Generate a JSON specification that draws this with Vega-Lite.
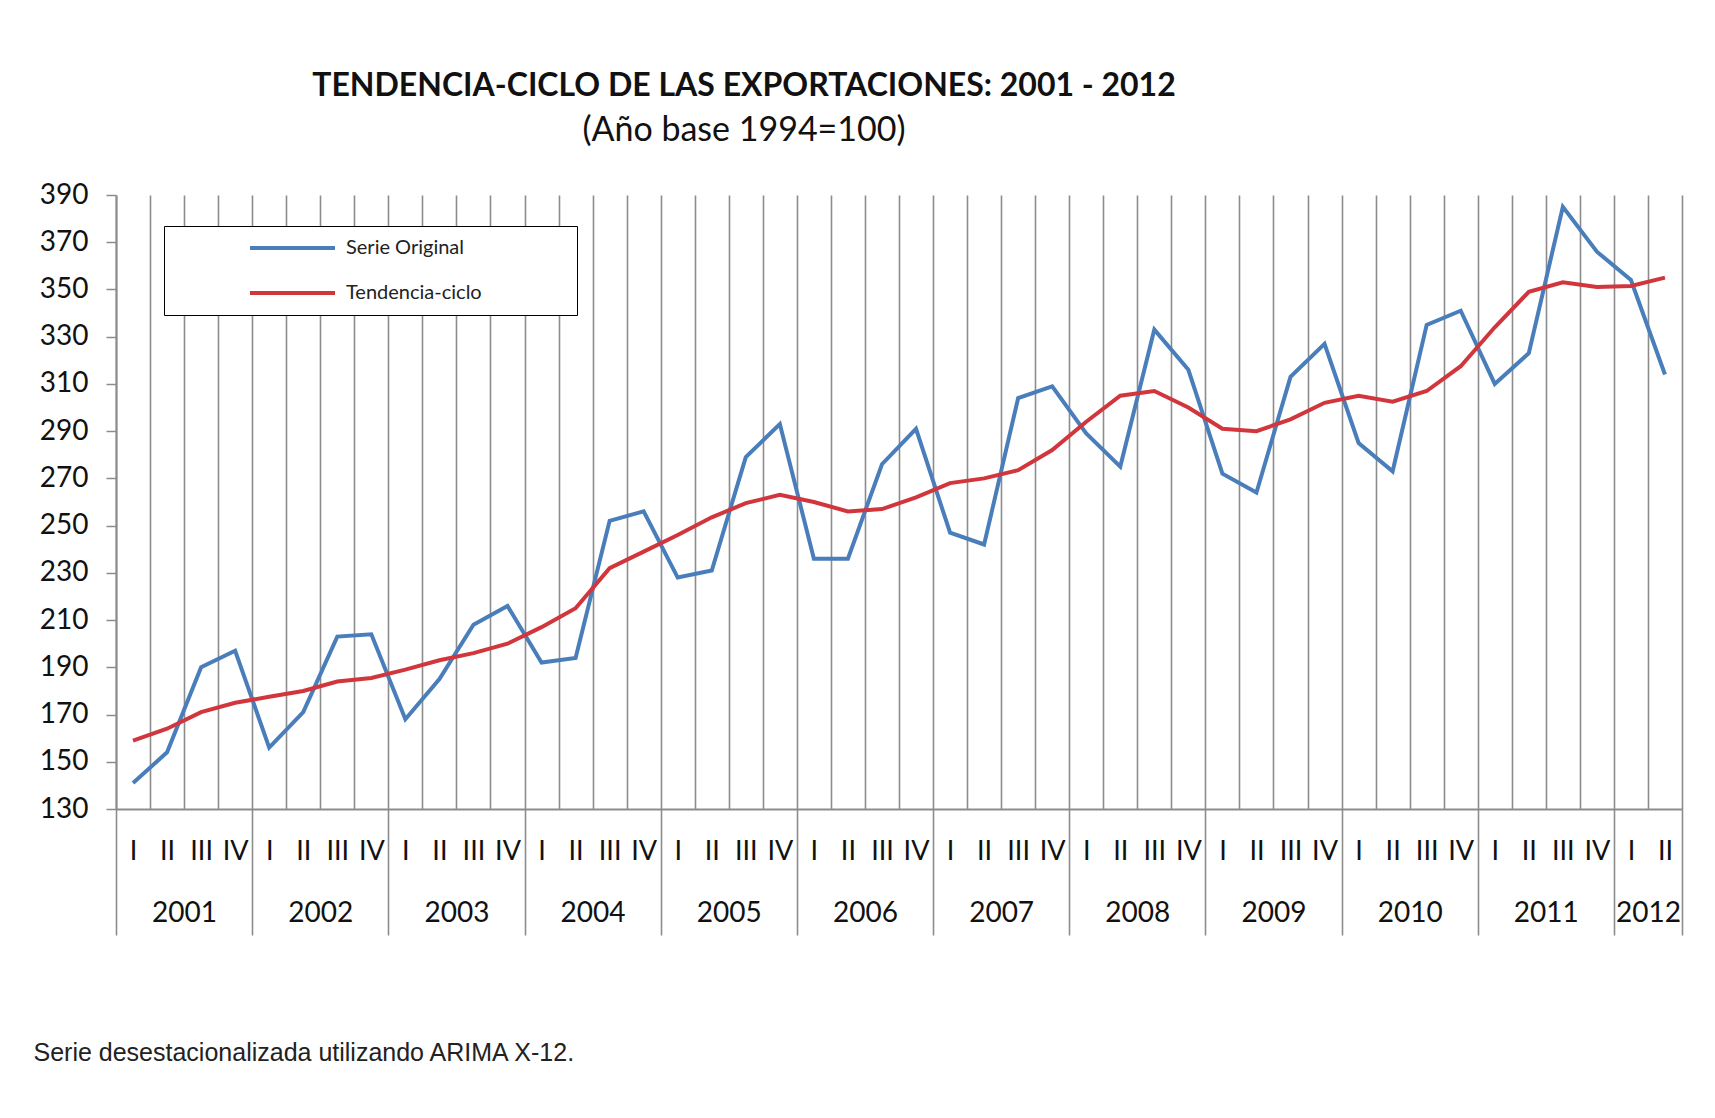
{
  "$schema": "https://vega.github.io/schema/vega-lite/v6.json",
  "width": 1566,
  "height": 614,
  "autosize": "none",
  "padding": {"left": 116, "top": 195, "right": 33, "bottom": 309},
  "background": "white",
  "config": {"view": {"stroke": null}, "font": "Lato"},
  "title": {
    "text": "TENDENCIA-CICLO DE LAS EXPORTACIONES: 2001 - 2012",
    "subtitle": "(Año base 1994=100)",
    "anchor": "middle",
    "dx": -155,
    "offset": 32,
    "font": "Lato",
    "fontSize": 32,
    "fontWeight": "bold",
    "color": "#111111",
    "subtitleFont": "Lato",
    "subtitleFontSize": 34,
    "subtitleColor": "#111111",
    "subtitlePadding": 11
  },
  "data": {"values": [
    {"i":0,"serie":"Serie Original","valor":141},{"i":1,"serie":"Serie Original","valor":154},{"i":2,"serie":"Serie Original","valor":190},{"i":3,"serie":"Serie Original","valor":197},
    {"i":4,"serie":"Serie Original","valor":156},{"i":5,"serie":"Serie Original","valor":171},{"i":6,"serie":"Serie Original","valor":203},{"i":7,"serie":"Serie Original","valor":204},
    {"i":8,"serie":"Serie Original","valor":168},{"i":9,"serie":"Serie Original","valor":185},{"i":10,"serie":"Serie Original","valor":208},{"i":11,"serie":"Serie Original","valor":216},
    {"i":12,"serie":"Serie Original","valor":192},{"i":13,"serie":"Serie Original","valor":194},{"i":14,"serie":"Serie Original","valor":252},{"i":15,"serie":"Serie Original","valor":256},
    {"i":16,"serie":"Serie Original","valor":228},{"i":17,"serie":"Serie Original","valor":231},{"i":18,"serie":"Serie Original","valor":279},{"i":19,"serie":"Serie Original","valor":293},
    {"i":20,"serie":"Serie Original","valor":236},{"i":21,"serie":"Serie Original","valor":236},{"i":22,"serie":"Serie Original","valor":276},{"i":23,"serie":"Serie Original","valor":291},
    {"i":24,"serie":"Serie Original","valor":247},{"i":25,"serie":"Serie Original","valor":242},{"i":26,"serie":"Serie Original","valor":304},{"i":27,"serie":"Serie Original","valor":309},
    {"i":28,"serie":"Serie Original","valor":289},{"i":29,"serie":"Serie Original","valor":275},{"i":30,"serie":"Serie Original","valor":333},{"i":31,"serie":"Serie Original","valor":316},
    {"i":32,"serie":"Serie Original","valor":272},{"i":33,"serie":"Serie Original","valor":264},{"i":34,"serie":"Serie Original","valor":313},{"i":35,"serie":"Serie Original","valor":327},
    {"i":36,"serie":"Serie Original","valor":285},{"i":37,"serie":"Serie Original","valor":273},{"i":38,"serie":"Serie Original","valor":335},{"i":39,"serie":"Serie Original","valor":341},
    {"i":40,"serie":"Serie Original","valor":310},{"i":41,"serie":"Serie Original","valor":323},{"i":42,"serie":"Serie Original","valor":385},{"i":43,"serie":"Serie Original","valor":366},
    {"i":44,"serie":"Serie Original","valor":354},{"i":45,"serie":"Serie Original","valor":314},
    {"i":0,"serie":"Tendencia-ciclo","valor":159},{"i":1,"serie":"Tendencia-ciclo","valor":164},{"i":2,"serie":"Tendencia-ciclo","valor":171},{"i":3,"serie":"Tendencia-ciclo","valor":175},
    {"i":4,"serie":"Tendencia-ciclo","valor":177.5},{"i":5,"serie":"Tendencia-ciclo","valor":180},{"i":6,"serie":"Tendencia-ciclo","valor":184},{"i":7,"serie":"Tendencia-ciclo","valor":185.5},
    {"i":8,"serie":"Tendencia-ciclo","valor":189},{"i":9,"serie":"Tendencia-ciclo","valor":193},{"i":10,"serie":"Tendencia-ciclo","valor":196},{"i":11,"serie":"Tendencia-ciclo","valor":200},
    {"i":12,"serie":"Tendencia-ciclo","valor":207},{"i":13,"serie":"Tendencia-ciclo","valor":215},{"i":14,"serie":"Tendencia-ciclo","valor":232},{"i":15,"serie":"Tendencia-ciclo","valor":239},
    {"i":16,"serie":"Tendencia-ciclo","valor":246},{"i":17,"serie":"Tendencia-ciclo","valor":253.5},{"i":18,"serie":"Tendencia-ciclo","valor":259.5},{"i":19,"serie":"Tendencia-ciclo","valor":263},
    {"i":20,"serie":"Tendencia-ciclo","valor":260},{"i":21,"serie":"Tendencia-ciclo","valor":256},{"i":22,"serie":"Tendencia-ciclo","valor":257},{"i":23,"serie":"Tendencia-ciclo","valor":262},
    {"i":24,"serie":"Tendencia-ciclo","valor":268},{"i":25,"serie":"Tendencia-ciclo","valor":270},{"i":26,"serie":"Tendencia-ciclo","valor":273.5},{"i":27,"serie":"Tendencia-ciclo","valor":282},
    {"i":28,"serie":"Tendencia-ciclo","valor":294},{"i":29,"serie":"Tendencia-ciclo","valor":305},{"i":30,"serie":"Tendencia-ciclo","valor":307},{"i":31,"serie":"Tendencia-ciclo","valor":300},
    {"i":32,"serie":"Tendencia-ciclo","valor":291},{"i":33,"serie":"Tendencia-ciclo","valor":290},{"i":34,"serie":"Tendencia-ciclo","valor":295},{"i":35,"serie":"Tendencia-ciclo","valor":302},
    {"i":36,"serie":"Tendencia-ciclo","valor":305},{"i":37,"serie":"Tendencia-ciclo","valor":302.5},{"i":38,"serie":"Tendencia-ciclo","valor":307},{"i":39,"serie":"Tendencia-ciclo","valor":317.5},
    {"i":40,"serie":"Tendencia-ciclo","valor":334},{"i":41,"serie":"Tendencia-ciclo","valor":349},{"i":42,"serie":"Tendencia-ciclo","valor":353},{"i":43,"serie":"Tendencia-ciclo","valor":351},
    {"i":44,"serie":"Tendencia-ciclo","valor":351.5},{"i":45,"serie":"Tendencia-ciclo","valor":355}
  ]},
  "resolve": {"axis": {"x": "independent"}},
  "layer": [
    {
      "mark": {"type": "line", "strokeWidth": 4},
      "encoding": {
        "x": {"field": "i", "type": "quantitative",
          "scale": {"domain": [-0.5, 45.5], "nice": false, "zero": false},
          "axis": {"orient": "bottom", "title": null, "labels": false, "ticks": false,
            "domain": true, "domainColor": "#8C8C8C", "domainWidth": 2,
            "grid": true, "gridColor": "#8C8C8C", "gridWidth": 1.6,
            "values": [-0.5,0.5,1.5,2.5,3.5,4.5,5.5,6.5,7.5,8.5,9.5,10.5,11.5,12.5,13.5,14.5,15.5,16.5,17.5,18.5,19.5,20.5,21.5,22.5,23.5,24.5,25.5,26.5,27.5,28.5,29.5,30.5,31.5,32.5,33.5,34.5,35.5,36.5,37.5,38.5,39.5,40.5,41.5,42.5,43.5,44.5,45.5]}},
        "y": {"field": "valor", "type": "quantitative",
          "scale": {"domain": [130, 390], "nice": false, "zero": false},
          "axis": {"title": null, "values": [130,150,170,190,210,230,250,270,290,310,330,350,370,390],
            "grid": false, "domain": true, "domainColor": "#8C8C8C", "domainWidth": 2, "ticks": true, "tickColor": "#8C8C8C", "tickWidth": 1.5, "tickSize": 10,
            "labels": true, "labelFont": "Lato", "labelFontSize": 28, "labelColor": "#111111", "labelPadding": 18}},
        "color": {"field": "serie", "type": "nominal",
          "scale": {"domain": ["Serie Original", "Tendencia-ciclo"], "range": ["#4A7EBB", "#D2363D"]},
          "legend": {"orient": "none", "legendX": 48, "legendY": 31, "title": "\u00a0", "titleOrient": "right", "titlePadding": 83,
            "strokeColor": "#000000", "fillColor": "#ffffff", "padding": 12,
            "symbolType": "stroke", "symbolSize": 7225, "symbolStrokeWidth": 4, "clipHeight": 20,
            "symbolOffset": 72, "labelOffset": 9, "rowPadding": 25,
            "labelFont": "Lato", "labelFontSize": 20, "labelColor": "#222222"}}
      }
    },
    {
      "mark": {"type": "point", "opacity": 0},
      "encoding": {
        "x": {"field": "i", "type": "quantitative",
          "axis": {"orient": "bottom", "title": null, "ticks": false, "domain": false, "grid": false,
            "values": [0,1,2,3,4,5,6,7,8,9,10,11,12,13,14,15,16,17,18,19,20,21,22,23,24,25,26,27,28,29,30,31,32,33,34,35,36,37,38,39,40,41,42,43,44,45],
            "labelExpr": "['I','II','III','IV'][datum.value % 4]",
            "labelFont": "Lato", "labelFontSize": 27, "labelColor": "#111111", "labelPadding": 29, "labelBaseline": "top"}}
      }
    },
    {
      "mark": {"type": "point", "opacity": 0},
      "encoding": {
        "x": {"field": "i", "type": "quantitative",
          "axis": {"orient": "bottom", "title": null, "ticks": false, "domain": false, "grid": false,
            "values": [1.5,5.5,9.5,13.5,17.5,21.5,25.5,29.5,33.5,37.5,41.5,44.5],
            "labelExpr": "'' + (2001 + floor((datum.value + 0.5) / 4))",
            "labelFont": "Lato", "labelFontSize": 28, "labelColor": "#111111", "labelPadding": 90, "labelBaseline": "top"}}
      }
    },
    {
      "mark": {"type": "point", "opacity": 0},
      "encoding": {
        "x": {"field": "i", "type": "quantitative",
          "axis": {"orient": "bottom", "labels": false, "domain": false, "grid": false,
            "ticks": true, "tickSize": 126, "tickColor": "#8C8C8C", "tickWidth": 1.6,
            "values": [-0.5,3.5,7.5,11.5,15.5,19.5,23.5,27.5,31.5,35.5,39.5,43.5,45.5],
            "title": "Serie desestacionalizada utilizando ARIMA X-12.",
            "titleFont": "Liberation Sans", "titleFontSize": 25, "titleFontWeight": "normal", "titleColor": "#222222",
            "titleAlign": "left", "titleAnchor": "start", "titleBaseline": "middle", "titleX": -83, "titleY": 243}}
      }
    }
  ]
}
